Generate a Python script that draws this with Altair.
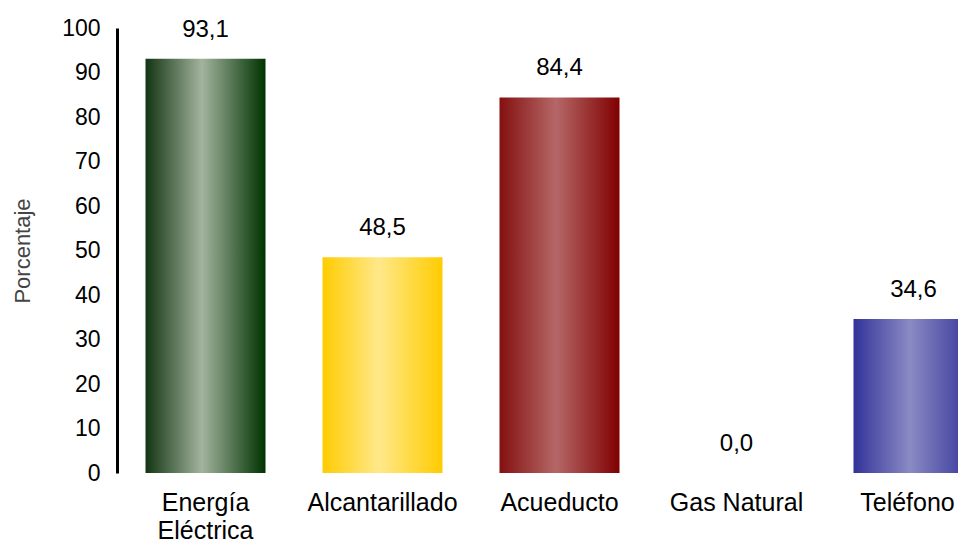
import altair as alt
import pandas as pd

categories = ["Energía Eléctrica", "Alcantarillado", "Acueducto", "Gas Natural", "Teléfono"]
values = [93.1, 48.5, 84.4, 0.0, 34.6]
edge_left = ["#123512", "#ffcc00", "#841010", "#ffffff", "#333399"]
center_colors = ["#a3b39e", "#ffe88a", "#b56767", "#ffffff", "#8a8ac4"]
edge_right = ["#003300", "#ffcc00", "#800000", "#ffffff", "#333399"]
y_ticks = list(range(0, 101, 10))

df = pd.DataFrame({"cat": categories, "val": values})

FONT = "Liberation Sans"

x_enc = alt.X(
    "cat:N",
    sort=categories,
    scale=alt.Scale(range=[0, 885], paddingInner=0.322, paddingOuter=0.161),
    axis=alt.Axis(
        title=None,
        labelAngle=0,
        domain=False,
        ticks=False,
        labelFont=FONT,
        labelFontSize=25,
        labelColor="black",
        labelPadding=17,
        labelLineHeight=28,
        labelLimit=400,
        labelOffset={"condition": {"test": "datum.index == 1", "value": -6}, "value": 0},
        labelExpr="datum.label == 'Energía Eléctrica' ? split(datum.label, ' ') : datum.label",
    ),
)

y_enc = alt.Y(
    "val:Q",
    scale=alt.Scale(domain=[0, 100]),
    axis=alt.Axis(
        values=y_ticks,
        title="Porcentaje",
        titleFont=FONT,
        titleFontSize=22,
        titleFontWeight="normal",
        titleColor="#444444",
        titlePadding=27,
        labelFont=FONT,
        labelFontSize=23,
        labelColor="black",
        labelPadding=17,
        ticks=False,
        grid=False,
        domainColor="black",
        domainWidth=3,
    ),
)

base = alt.Chart(df)

layers = []
for c, l, m, r in zip(categories, edge_left, center_colors, edge_right):
    grad = alt.Gradient(
        gradient="linear",
        x1=0, x2=1, y1=0, y2=0,
        stops=[
            alt.GradientStop(color=l, offset=0),
            alt.GradientStop(color=m, offset=0.47),
            alt.GradientStop(color=r, offset=1),
        ],
    )
    layers.append(
        base.transform_filter(alt.datum.cat == c)
        .mark_bar(fill=grad)
        .encode(x=x_enc, y=y_enc)
    )

labels = (
    base.transform_calculate(lab="replace(format(datum.val, '.1f'), '.', ',')")
    .mark_text(font=FONT, fontSize=24, color="black", baseline="alphabetic", dy=-22)
    .encode(x=x_enc, y=y_enc, text="lab:N")
)

chart = (
    alt.layer(*layers, labels)
    .properties(
        width=841,
        height=445,
        autosize=alt.AutoSizeParams(type="none"),
        padding={"left": 109, "top": 20, "right": 0, "bottom": 73},
        background="white",
    )
    .configure_view(stroke=None)
)

chart.save("out.html", embed_options={"renderer": "svg", "actions": False})
